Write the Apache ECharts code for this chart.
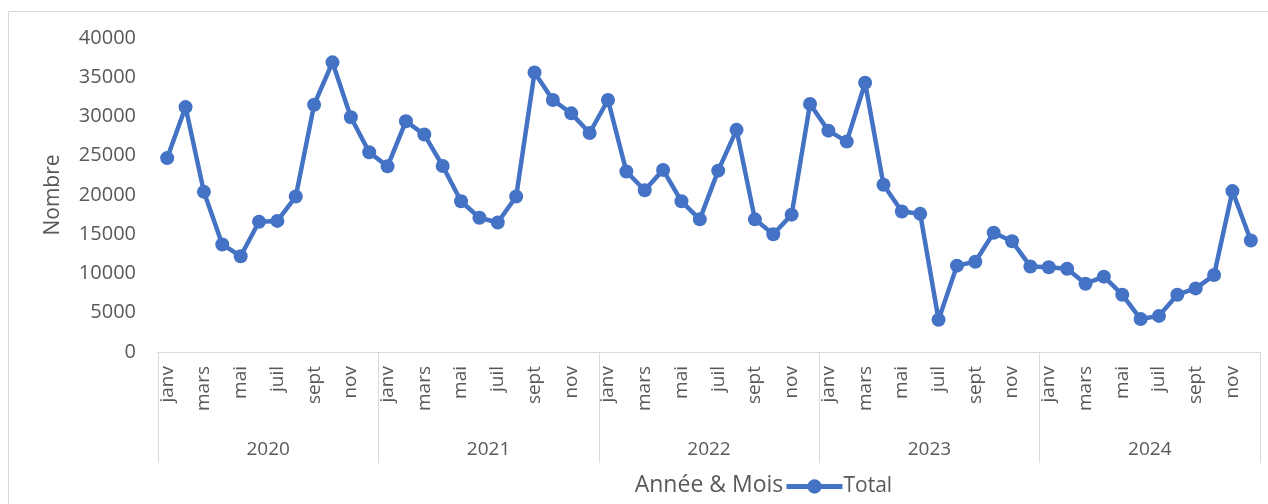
<!DOCTYPE html>
<html>
<head>
<meta charset="utf-8">
<script src="https://cdn.jsdelivr.net/npm/echarts@6/dist/echarts.min.js"></script>
<style>
html,body{margin:0;padding:0;background:#fff;}
#c{width:1268px;height:504px;}
</style>
</head>
<body>
<div id="c"></div>
<script>
const years = ['2020', '2021', '2022', '2023', '2024'];
const monthNames = ['janv', 'févr', 'mars', 'avr', 'mai', 'juin', 'juil', 'août', 'sept', 'oct', 'nov', 'déc'];
const values2020 = [24700, 31200, 20400, 13700, 12200, 16600, 16700, 19800, 31500, 36900, 29900, 25450];
const values2021 = [23650, 29400, 27700, 23700, 19200, 17100, 16500, 19800, 35600, 32100, 30400, 27900];
const values2022 = [32100, 23000, 20600, 23200, 19200, 16900, 23100, 28300, 16900, 15000, 17500, 31600];
const values2023 = [28200, 26800, 34300, 21300, 17900, 17600, 4100, 11000, 11500, 15200, 14100, 10900];
const values2024 = [10800, 10600, 8700, 9600, 7300, 4200, 4600, 7300, 8100, 9800, 20500, 14200];
const yTicks = { min: 0, max: 40000, interval: 5000 };

const months = [];
years.forEach(() => monthNames.forEach(m => months.push(m)));
const totals = [].concat(values2020, values2021, values2022, values2023, values2024);

const FONT = 'Open Sans';
const TXT = '#595959';
const BLUE = '#4472C4';
const chart = echarts.init(document.getElementById('c'), null, { renderer: 'canvas' });
chart.setOption({
  animation: false,
  backgroundColor: '#fff',
  textStyle: { fontFamily: FONT },
  graphic: [{
    type: 'rect', z: -10,
    shape: { x: 8.5, y: 11.5, width: 1300, height: 600 },
    style: { fill: 'none', stroke: '#d9d9d9', lineWidth: 1 }
  }],
  grid: { left: 158, right: 8, top: 38, bottom: 152, containLabel: false },
  legend: {
    show: true,
    left: 779, top: 471,
    itemWidth: 56, itemHeight: 18, itemGap: 0,
    lineStyle: { width: 5, color: BLUE },
    itemStyle: { color: BLUE },
    textStyle: { fontFamily: FONT, fontSize: 21, color: TXT, padding: [0, 0, 0, -4] },
    data: ['Total']
  },
  xAxis: [{
    type: 'category',
    data: months,
    position: 'bottom',
    axisLine: { show: true, lineStyle: { color: '#d9d9d9', width: 1 } },
    axisTick: { show: false },
    axisLabel: {
      interval: 1, rotate: 90, margin: 14,
      fontFamily: FONT, fontSize: 19, color: TXT
    }
  }, {
    type: 'category',
    data: years,
    position: 'bottom',
    offset: 0,
    axisLine: { show: true, lineStyle: { color: '#d9d9d9', width: 1 } },
    axisTick: { show: true, interval: 0, length: 111, lineStyle: { color: '#d9d9d9', width: 1 } },
    axisLabel: { interval: 0, margin: 88, fontFamily: FONT, fontSize: 19, color: TXT },
    name: 'Année & Mois',
    nameLocation: 'middle',
    nameGap: 122,
    nameTextStyle: { fontFamily: FONT, fontSize: 23, color: TXT }
  }],
  yAxis: {
    type: 'value',
    min: yTicks.min, max: yTicks.max, interval: yTicks.interval,
    splitLine: { show: false },
    axisLine: { show: false },
    axisTick: { show: false },
    axisLabel: {
      margin: 22, fontFamily: FONT, fontSize: 20, color: TXT,
      formatter: v => String(v)
    },
    name: 'Nombre',
    nameLocation: 'middle',
    nameRotate: 90,
    nameGap: 94,
    nameTextStyle: { fontFamily: FONT, fontSize: 21, color: TXT }
  },
  series: [{
    name: 'Total',
    type: 'line',
    xAxisIndex: 0,
    data: totals,
    symbol: 'circle',
    symbolSize: 14,
    showAllSymbol: true,
    lineStyle: { color: BLUE, width: 4.5 },
    itemStyle: { color: BLUE }
  }]
});
</script>
</body>
</html>
